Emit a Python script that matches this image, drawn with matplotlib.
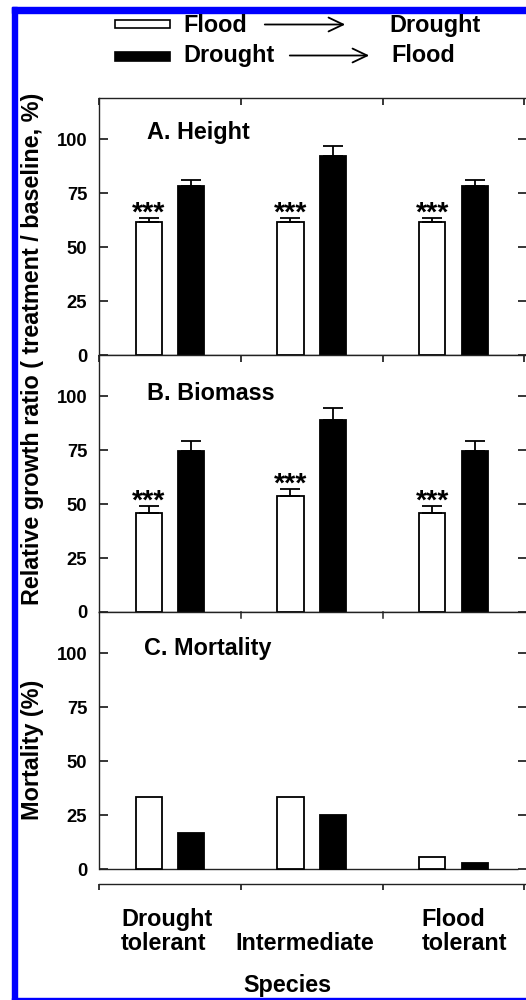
import numpy as np
import matplotlib
matplotlib.use('Agg')
import matplotlib.pyplot as plt
from matplotlib.patches import Rectangle, FancyArrowPatch
from matplotlib.transforms import blended_transform_factory

# Werte
species = ['Drought\ntolerant', 'Intermediate', 'Flood\ntolerant']
height_fd = [61.4, 61.4, 61.4]
height_fd_err = [2.2, 1.9, 2.2]
height_df = [78.2, 92.1, 78.2]
height_df_err = [2.6, 4.8, 2.6]
biomass_fd = [45.9, 53.9, 45.9]
biomass_fd_err = [3.1, 3.0, 3.1]
biomass_df = [74.7, 89.0, 74.7]
biomass_df_err = [4.3, 5.6, 4.3]
mort_fd = [33.3, 33.3, 5.6]
mort_df = [16.7, 25.0, 3.0]
stars = ['***', '***', '***']
yticks = [0, 25, 50, 75, 100]
titles = ['A. Height', 'B. Biomass', 'C. Mortality']

plt.rcParams['font.family'] = ['Liberation Sans', 'DejaVu Sans']
plt.rcParams['font.weight'] = 'bold'

W, H = 526, 1000
def fx(x):
    return x / W
def fy(y):
    return 1 - y / H

fig = plt.figure(figsize=(W / 100, H / 100), dpi=100)

x = np.arange(len(species)) + 0.5
off, bw = 0.15, 0.185
ax_w = (527.2 - 99) / W
tick_fs = 13.2
big_fs = 16.8


def style_axes(ax, ylim):
    ax.set_xlim(0, 3.02)
    ax.set_ylim(*ylim)
    ax.set_yticks(yticks)
    ax.set_yticklabels([str(t) for t in yticks], fontsize=tick_fs, fontweight='bold')
    ax.tick_params(axis='y', which='major', direction='in', left=True, right=True,
                   length=6.5, width=1.1, pad=8.5)
    ax.set_xticks([0, 1, 2, 3])
    ax.set_xticklabels([])
    ax.tick_params(axis='x', which='major', direction='in', top=True, bottom=False,
                   length=5, width=1.1)
    for s in ax.spines.values():
        s.set_linewidth(1.0)
        s.set_color('#222222')


def draw_bars(ax, fd, fd_err, df, df_err):
    ek = dict(elinewidth=1.3, capthick=1.3, ecolor='black')
    ax.bar(x - off, fd, bw, color='white', edgecolor='black', linewidth=1.3,
           yerr=[np.zeros(3), fd_err], capsize=7, error_kw=ek, zorder=3)
    ax.bar(x + off, df, bw, color='black', edgecolor='black', linewidth=1.3,
           yerr=[np.zeros(3), df_err], capsize=7, error_kw=ek, zorder=3)
    for xi, v, e, s in zip(x - off, fd, fd_err, stars):
        ax.text(xi, v + e - 4.0, s, ha='center', va='bottom', fontsize=20.5,
                fontweight='bold')


# A. Height
ax_a = fig.add_axes([fx(99), fy(355), ax_w, (355 - 98) / H])
style_axes(ax_a, (0, 119))
draw_bars(ax_a, height_fd, height_fd_err, height_df, height_df_err)

# B. Biomass
ax_b = fig.add_axes([fx(99), fy(612), ax_w, (612 - 355) / H])
style_axes(ax_b, (0, 119))
draw_bars(ax_b, biomass_fd, biomass_fd_err, biomass_df, biomass_df_err)

# C. Mortality
ax_c = fig.add_axes([fx(99), fy(884), ax_w, (884 - 612) / H])
style_axes(ax_c, (-6.94, 119))
ax_c.spines['left'].set_bounds(0, 119)
ax_c.spines['right'].set_bounds(0, 119)
ax_c.tick_params(axis='x', which='major', direction='out', top=False, bottom=True,
                 length=4, width=1.1)
ax_c.hlines(0, 0, 2.955, color='#222222', linewidth=1.0, zorder=2)
ax_c.bar(x - off, mort_fd, bw, color='white', edgecolor='black', linewidth=1.3, zorder=3)
ax_c.bar(x + off, mort_df, bw, color='black', edgecolor='black', linewidth=1.3, zorder=3)
# obere Ticks von C (nach innen)
for xt in [1, 2]:
    ax_c.plot([xt, xt], [119, 116.3], color='#222222', lw=1.1, clip_on=False)

# Gruppenbeschriftungen
tr = blended_transform_factory(ax_c.transData, fig.transFigure)
for xl, lab in zip([0.477, 1.453, 2.578], species):
    ax_c.text(xl, fy(950), lab, transform=tr, ha='center', va='baseline',
              multialignment='left', fontsize=big_fs, fontweight='bold',
              linespacing=1.05)

fig.text(fx(287), fy(992), 'Species', ha='center', va='baseline', fontsize=big_fs)

# Paneltitel
fig.text(fx(147), fy(139), titles[0], ha='left', va='baseline', fontsize=big_fs)
fig.text(fx(147), fy(400), titles[1], ha='left', va='baseline', fontsize=big_fs)
fig.text(fx(144), fy(655), titles[2], ha='left', va='baseline', fontsize=big_fs)

# y-Achsentitel
fig.text(fx(33), fy(349), 'Relative growth ratio ( treatment / baseline, %)',
         rotation=90, ha='center', va='center', fontsize=big_fs)
fig.text(fx(33), fy(750), 'Mortality (%)', rotation=90, ha='center', va='center',
         fontsize=big_fs)

# Legende
fig.add_artist(Rectangle((fx(115), fy(28)), 55 / W, 8 / H, facecolor='white',
                         edgecolor='black', lw=1.2, transform=fig.transFigure))
fig.add_artist(Rectangle((fx(115), fy(61)), 55 / W, 9 / H, facecolor='black',
                         edgecolor='black', lw=1.2, transform=fig.transFigure))
fig.text(fx(183), fy(32), 'Flood', ha='left', va='baseline', fontsize=big_fs)
fig.text(fx(389), fy(32), 'Drought', ha='left', va='baseline', fontsize=big_fs)
fig.text(fx(183), fy(62), 'Drought', ha='left', va='baseline', fontsize=big_fs)
fig.text(fx(391), fy(62), 'Flood', ha='left', va='baseline', fontsize=big_fs)
for x0, x1, yy in [(262, 348, 24.5), (287, 372, 55.5)]:
    fig.add_artist(FancyArrowPatch((fx(x0), fy(yy)), (fx(x1), fy(yy)),
                                   arrowstyle='->,head_length=1.05,head_width=0.5',
                                   mutation_scale=10, lw=1.3, color='black',
                                   transform=fig.transFigure))

# blauer Rahmen
blue = '#0000ff'
fig.add_artist(Rectangle((fx(12), 0), 5 / W, fy(7), color=blue, transform=fig.transFigure))
fig.add_artist(Rectangle((fx(12), fy(13)), 1 - fx(12), 6 / H, color=blue,
                         transform=fig.transFigure))
fig.add_artist(Rectangle((fx(12), 0), 1, 2 / H, color=blue, transform=fig.transFigure))

fig.savefig('out.png', dpi=100)
